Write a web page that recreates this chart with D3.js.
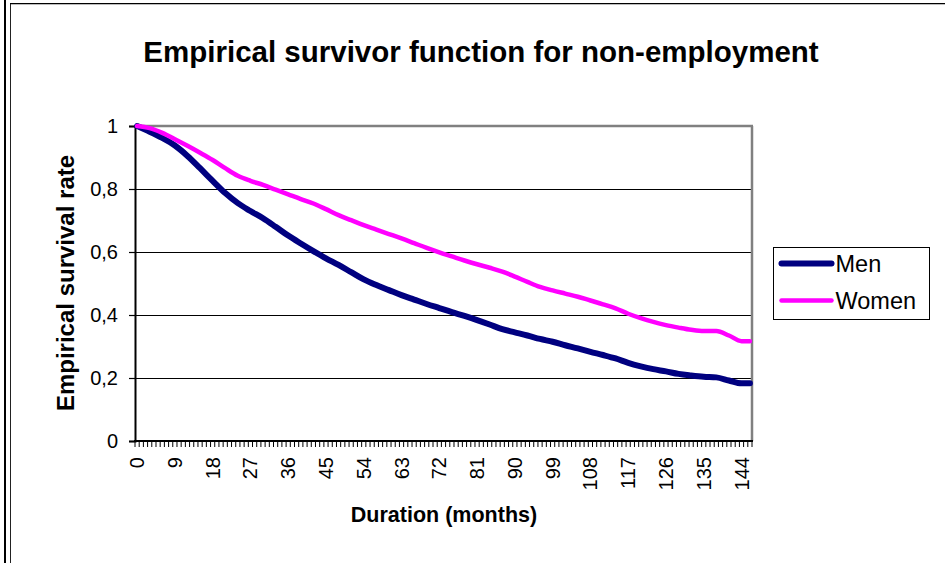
<!DOCTYPE html>
<html>
<head>
<meta charset="utf-8">
<script src="https://cdn.jsdelivr.net/npm/d3@7"></script>
<style>
  body { margin: 0; background: #fff; }
  svg { display: block; font-family: Arial, "Liberation Sans", sans-serif; }
</style>
</head>
<body>
<script>
// categories on the x axis (months 0..146)
const categories = d3.range(0, 147);
const tickEvery = 9;

const months = [0, 3, 6, 9, 12, 15, 18, 21, 24, 27, 30, 33, 36, 39, 42, 45, 48, 51, 54, 57,
  60, 63, 66, 69, 72, 75, 78, 81, 84, 87, 90, 93, 96, 99, 102, 105, 108, 111, 114, 117,
  120, 123, 126, 129, 132, 135, 138, 141, 144, 146];

const men = [1.000, 0.982, 0.962, 0.938, 0.905, 0.866, 0.826, 0.787, 0.755, 0.730,
  0.707, 0.680, 0.652, 0.627, 0.603, 0.580, 0.559, 0.536, 0.513, 0.495,
  0.479, 0.463, 0.449, 0.435, 0.422, 0.409, 0.397, 0.384, 0.370, 0.355,
  0.345, 0.335, 0.324, 0.315, 0.304, 0.294, 0.283, 0.273, 0.262, 0.248,
  0.237, 0.228, 0.221, 0.213, 0.208, 0.204, 0.202, 0.192, 0.183, 0.183];

const women = [1.000, 0.993, 0.978, 0.958, 0.937, 0.915, 0.892, 0.866, 0.842, 0.826,
  0.813, 0.798, 0.783, 0.768, 0.754, 0.736, 0.717, 0.701, 0.685, 0.671,
  0.657, 0.643, 0.628, 0.613, 0.599, 0.586, 0.573, 0.561, 0.550, 0.538,
  0.522, 0.505, 0.489, 0.478, 0.468, 0.458, 0.446, 0.434, 0.421, 0.404,
  0.390, 0.378, 0.368, 0.360, 0.353, 0.349, 0.349, 0.335, 0.317, 0.317];

const yTicks = [0, 0.2, 0.4, 0.6, 0.8, 1];

const seriesNames = ['Men', 'Women'];
const seriesColors = ['#000080', '#FF00FF'];
const seriesWidths = [6, 4.5];

const W = 945, H = 563;
const plot = { left: 135, right: 752, top: 126, bottom: 441 };

const svg = d3.select('body').append('svg')
  .attr('width', W)
  .attr('height', H);

// page frame lines
svg.append('line').attr('x1', 5).attr('x2', 5).attr('y1', 0).attr('y2', H)
  .attr('stroke', '#000').attr('stroke-width', 2);
svg.append('line').attr('x1', 10.5).attr('x2', 10.5).attr('y1', 3).attr('y2', H)
  .attr('stroke', '#222').attr('stroke-width', 1);
svg.append('line').attr('x1', 10).attr('x2', W).attr('y1', 3.5).attr('y2', 3.5)
  .attr('stroke', '#000').attr('stroke-width', 1);
svg.append('line').attr('x1', 11).attr('x2', W).attr('y1', 4.5).attr('y2', 4.5)
  .attr('stroke', '#bbb').attr('stroke-width', 1);

// scales
const xBand = d3.scaleBand()
  .domain(categories)
  .range([plot.left, plot.right]);
const x = d3.scalePoint()
  .domain(categories)
  .range([plot.left, plot.right])
  .padding(0.5);
const y = d3.scaleLinear()
  .domain([0, 1])
  .range([plot.bottom, plot.top]);

const commaLocale = d3.formatLocale({ decimal: ',', thousands: '.', grouping: [3], currency: ['', ''] });
const fmt = commaLocale.format('~g');

// gridlines
svg.append('g')
  .selectAll('line')
  .data(yTicks.filter(d => d > 0 && d < 1))
  .enter().append('line')
  .attr('x1', plot.left).attr('x2', plot.right)
  .attr('y1', d => Math.round(y(d)) + 0.5).attr('y2', d => Math.round(y(d)) + 0.5)
  .attr('stroke', '#000').attr('stroke-width', 1);

// plot area border (top and right, gray)
svg.append('line')
  .attr('x1', plot.left).attr('x2', plot.right + 1)
  .attr('y1', y(1)).attr('y2', y(1))
  .attr('stroke', '#808080').attr('stroke-width', 2.5);
svg.append('line')
  .attr('x1', plot.right).attr('x2', plot.right)
  .attr('y1', y(1)).attr('y2', plot.bottom)
  .attr('stroke', '#808080').attr('stroke-width', 2.5);

// y axis
const yAxis = svg.append('g')
  .attr('transform', `translate(${plot.left},0)`)
  .call(d3.axisLeft(y).tickValues(yTicks).tickFormat(fmt).tickSize(6).tickPadding(11));
yAxis.select('.domain').attr('stroke', '#000').attr('stroke-width', 2);
yAxis.selectAll('.tick line').attr('stroke', '#000').attr('stroke-width', 1.2);
yAxis.selectAll('text').attr('font-size', 20).attr('fill', '#000')
  .attr('font-family', 'Arial, "Liberation Sans", sans-serif');

// x axis: ticks between every category
const xAxis = svg.append('g');
xAxis.append('line')
  .attr('x1', plot.left - 1).attr('x2', plot.right + 1)
  .attr('y1', plot.bottom).attr('y2', plot.bottom)
  .attr('stroke', '#000').attr('stroke-width', 2);
xAxis.selectAll('.xtick')
  .data(categories.concat([null]))
  .enter().append('line')
  .attr('class', 'xtick')
  .attr('x1', d => d === null ? plot.right : xBand(d))
  .attr('x2', d => d === null ? plot.right : xBand(d))
  .attr('y1', plot.bottom).attr('y2', plot.bottom + 6)
  .attr('stroke', '#000').attr('stroke-width', 1);
xAxis.selectAll('.xlabel')
  .data(categories.filter(d => d % tickEvery === 0))
  .enter().append('text')
  .attr('class', 'xlabel')
  .attr('transform', d => `translate(${x(d) + 7},${plot.bottom + 16}) rotate(-90)`)
  .attr('text-anchor', 'end')
  .attr('font-size', 20)
  .attr('fill', '#000')
  .text(d => d);

// lines
const line = d3.line()
  .x(d => x(d[0]))
  .y(d => y(d[1]))
  .curve(d3.curveMonotoneX);

[men, women].forEach((vals, i) => {
  svg.append('path')
    .datum(months.map((m, k) => [m, vals[k]]))
    .attr('fill', 'none')
    .attr('stroke', seriesColors[i])
    .attr('stroke-width', seriesWidths[i])
    .attr('stroke-linejoin', 'round')
    .attr('stroke-linecap', 'round')
    .attr('d', line);
});

// title
svg.append('text')
  .attr('x', 481).attr('y', 62)
  .attr('text-anchor', 'middle')
  .attr('font-size', 29.5).attr('font-weight', 'bold')
  .text('Empirical survivor function for non-employment');

// axis titles
svg.append('text')
  .attr('transform', `translate(74,283) rotate(-90)`)
  .attr('text-anchor', 'middle')
  .attr('font-size', 24).attr('font-weight', 'bold')
  .text('Empirical survival rate');

svg.append('text')
  .attr('x', 444).attr('y', 522)
  .attr('text-anchor', 'middle')
  .attr('font-size', 21.5).attr('font-weight', 'bold')
  .text('Duration (months)');

// legend
const legend = svg.append('g').attr('transform', 'translate(773.5,247.5)');
legend.append('rect')
  .attr('width', 156).attr('height', 72)
  .attr('fill', '#fff').attr('stroke', '#000').attr('stroke-width', 1);
const item = legend.selectAll('.item')
  .data(seriesNames)
  .enter().append('g')
  .attr('class', 'item')
  .attr('transform', (d, i) => `translate(0,${16 + i * 37})`);
item.append('line')
  .attr('x1', 8).attr('x2', 58)
  .attr('stroke', (d, i) => seriesColors[i])
  .attr('stroke-width', (d, i) => seriesWidths[i])
  .attr('stroke-linecap', 'round');
item.append('text')
  .attr('x', 62).attr('y', 8.5)
  .attr('font-size', 23.5)
  .text(d => d);
</script>
</body>
</html>
